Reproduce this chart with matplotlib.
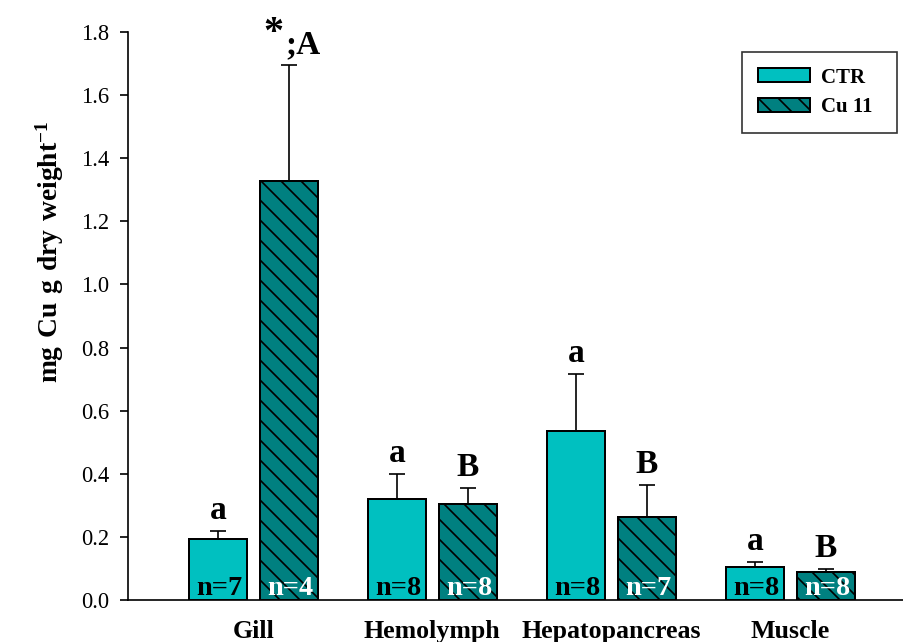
import matplotlib
matplotlib.use("Agg")
import matplotlib.pyplot as plt
import numpy as np

# Copper content by tissue (mg Cu g dry weight^-1), mean and upper SE
tissues = ["Gill", "Hemolymph", "Hepatopancreas", "Muscle"]
ctr_mean = [0.193, 0.320, 0.535, 0.105]
ctr_err = [0.026, 0.080, 0.181, 0.015]
cu_mean = [1.328, 0.304, 0.263, 0.089]
cu_err = [0.367, 0.051, 0.101, 0.009]
ctr_n = ["n=7", "n=8", "n=8", "n=8"]
cu_n = ["n=4", "n=8", "n=7", "n=8"]
ctr_letters = ["a", "a", "a", "a"]
cu_letters = [";A", "B", "B", "B"]
yticks = [0.0, 0.2, 0.4, 0.6, 0.8, 1.0, 1.2, 1.4, 1.6, 1.8]

SERIF = "Liberation Serif"
plt.rcParams["font.family"] = SERIF
plt.rcParams["mathtext.fontset"] = "custom"
plt.rcParams["mathtext.rm"] = SERIF
plt.rcParams["mathtext.bf"] = SERIF + ":bold"
plt.rcParams["hatch.linewidth"] = 1.0
plt.rcParams["hatch.color"] = "black"

DPI = 120
fig = plt.figure(figsize=(903 / DPI, 642 / DPI), dpi=DPI)
ax = fig.add_axes([128 / 903, 42 / 642, 1 - 128 / 903, 568 / 642])

x = np.arange(len(tissues))
w = 0.324
off = 0.198
ctr_color = "#00C0C0"
cu_color = "#008080"

ax.bar(x - off, ctr_mean, w, color=ctr_color, edgecolor="black", linewidth=1.2,
       label="CTR", zorder=2)
ax.bar(x + off, cu_mean, w, color=cu_color, edgecolor="black", linewidth=1.2,
       hatch="\\\\", label="Cu 11", zorder=2)

err_kw = dict(fmt="none", ecolor="black", elinewidth=1.0, capsize=4.8, capthick=1.0, zorder=3)
ax.errorbar(x - off, ctr_mean, yerr=[np.zeros(len(x)), ctr_err], **err_kw)
ax.errorbar(x + off, cu_mean, yerr=[np.zeros(len(x)), cu_err], **err_kw)

# significance letters above the error bars
for i in range(len(x)):
    ax.annotate(ctr_letters[i], xy=(x[i] - off, ctr_mean[i] + ctr_err[i]),
                xytext=(0, 12), textcoords="offset pixels", ha="center", va="baseline",
                fontsize=20, fontweight="bold")
    if i == 0:
        ax.annotate(cu_letters[i], xy=(x[i] + off, cu_mean[i] + cu_err[i]),
                    xytext=(-3, 12), textcoords="offset pixels", ha="left", va="baseline",
                    fontsize=20, fontweight="bold")
        ax.annotate("*", xy=(x[i] + off, cu_mean[i] + cu_err[i]),
                    xytext=(-15, 32), textcoords="offset pixels", ha="center", va="center",
                    fontsize=24, fontweight="bold")
    else:
        ax.annotate(cu_letters[i], xy=(x[i] + off, cu_mean[i] + cu_err[i]),
                    xytext=(0, 12), textcoords="offset pixels", ha="center", va="baseline",
                    fontsize=20, fontweight="bold")

# sample sizes inside the bars
for i in range(len(x)):
    ax.annotate(ctr_n[i], xy=(x[i] - off, 0), xytext=(2, 5), textcoords="offset pixels",
                ha="center", va="baseline", fontsize=17, fontweight="bold", color="black",
                zorder=4)
    ax.annotate(cu_n[i], xy=(x[i] + off, 0), xytext=(2, 5), textcoords="offset pixels",
                ha="center", va="baseline", fontsize=17, fontweight="bold", color="white",
                zorder=4)

ax.set_xlim(-0.70, 3.63)
ax.set_ylim(0, 1.8)
ax.set_yticks(yticks)
ax.set_yticklabels([f"{t:.1f}" for t in yticks], fontsize=13.5)
ax.set_xticks(x)
ax.set_xticklabels(tissues, fontsize=15.5, fontweight="bold")
ax.tick_params(axis="x", length=0, pad=12)
ax.tick_params(axis="y", direction="out", length=5, width=1.0, pad=6)

for s in ["top", "right"]:
    ax.spines[s].set_visible(False)
for s in ["left", "bottom"]:
    ax.spines[s].set_linewidth(1.0)

ax.set_ylabel(r"$\mathbf{mg\ Cu\ g\ dry\ weight^{-1}}$", fontsize=16.5, labelpad=6)
ax.yaxis.set_label_coords(-0.080, (600 - 252) / 568)

leg = ax.legend(loc="upper left", mode="expand",
                bbox_to_anchor=(742 / 903, 1 - 137 / 642, 155 / 903, 85 / 642),
                bbox_transform=fig.transFigure, borderaxespad=0,
                prop=dict(family=SERIF, weight="bold", size=12.5),
                handlelength=2.5, handleheight=0.67, handletextpad=0.53,
                labelspacing=0.45, borderpad=0.75, fancybox=False, shadow=False,
                frameon=True)
leg.get_frame().set_edgecolor("black")
leg.get_frame().set_linewidth(1.0)

fig.savefig("out.png", dpi=DPI)
